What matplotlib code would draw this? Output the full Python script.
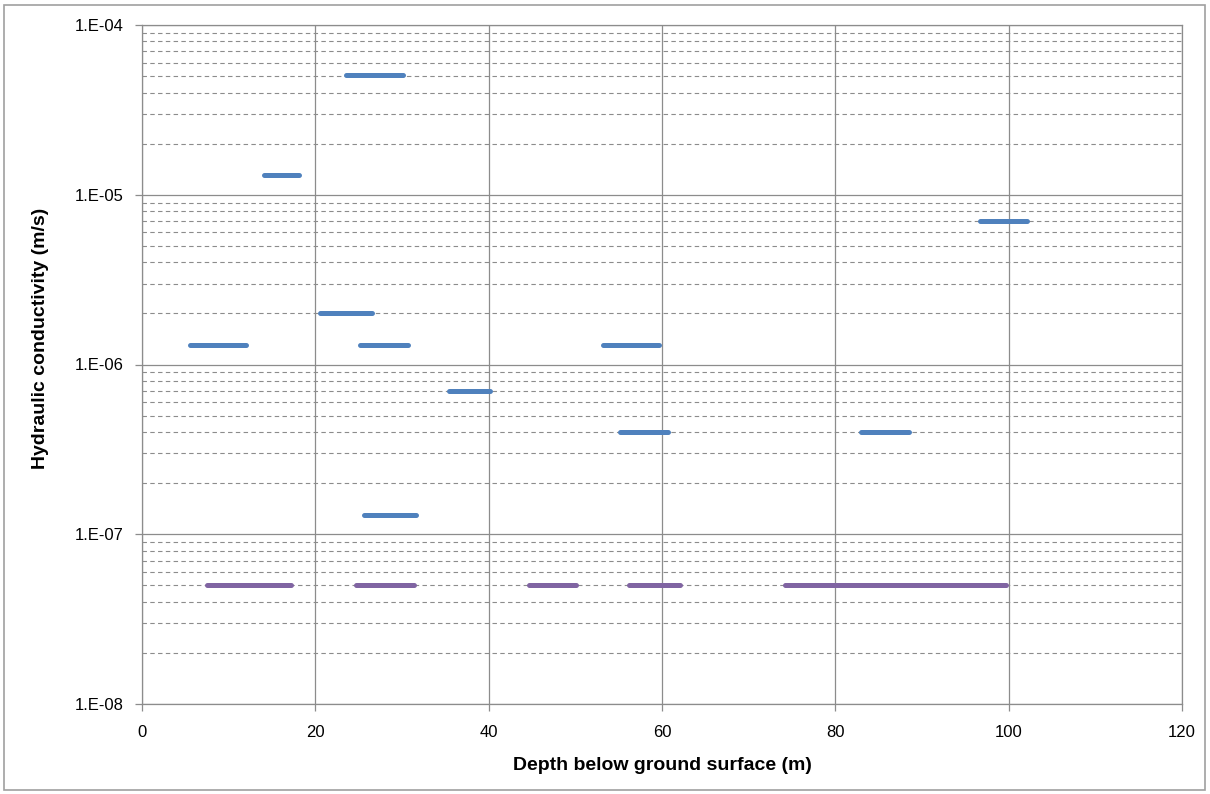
import numpy as np
import matplotlib
matplotlib.use("Agg")
from matplotlib import pyplot as plt
from matplotlib.patches import Rectangle
from matplotlib.ticker import LogLocator, FixedLocator, NullFormatter

plt.rcParams['font.family'] = ['Liberation Sans', 'DejaVu Sans']

# tested intervals: start depth, end depth (m), hydraulic conductivity (m/s)
blue_start = [5.5, 6.8, 14.1, 20.5, 23.5, 25.2, 25.6, 35.4, 53.2, 55.2, 83.0, 96.7]
blue_end = [12.0, 11.1, 18.1, 26.5, 30.1, 30.7, 31.6, 40.1, 59.6, 60.7, 88.5, 102.1]
blue_k = [1.3e-6, 1.3e-6, 1.3e-5, 2e-6, 5.1e-5, 1.3e-6, 1.3e-7, 7e-7, 1.3e-6, 4e-7, 4e-7, 7e-6]

purple_start = [7.5, 11.8, 24.7, 25.9, 44.7, 56.2, 74.2, 74.4]
purple_end = [13.0, 17.2, 31.4, 30.2, 50.1, 62.1, 99.7, 79.6]
purple_k = [5e-8, 5e-8, 5e-8, 5e-8, 5e-8, 5e-8, 5e-8, 5e-8]

x_ticks = [0, 20, 40, 60, 80, 100, 120]
y_ticks = [1e-8, 1e-7, 1e-6, 1e-5, 1e-4]
y_tick_labels = ['1.E-08', '1.E-07', '1.E-06', '1.E-05', '1.E-04']

BLUE = '#4F81BD'
PURPLE = '#8064A2'
GRID = '#8c8c8c'

W, H = 1210, 794
fig = plt.figure(figsize=(W / 100, H / 100), dpi=100)
ax = fig.add_axes([142 / W, 1 - 704 / H, 1040 / W, 679 / H])

# outer chart border
fig.patches.append(Rectangle((4 / W, 4 / H), 1201 / W, 785 / H,
                             transform=fig.transFigure, fill=False,
                             edgecolor='#a0a0a0', linewidth=1.2))

for x0, x1, k in zip(blue_start, blue_end, blue_k):
    ax.plot([x0, x1], [k, k], color=BLUE, lw=3.6, solid_capstyle='round', zorder=3)
for x0, x1, k in zip(purple_start, purple_end, purple_k):
    ax.plot([x0, x1], [k, k], color=PURPLE, lw=3.6, solid_capstyle='round', zorder=3)

ax.set_yscale('log')
ax.set_xlim(0, 120)
ax.set_ylim(1e-8, 1e-4)
ax.xaxis.set_major_locator(FixedLocator(x_ticks))
ax.set_yticks(y_ticks)
ax.set_yticklabels(y_tick_labels)
ax.yaxis.set_minor_locator(LogLocator(base=10, subs=np.arange(2, 10)))
ax.yaxis.set_minor_formatter(NullFormatter())

ax.grid(True, which='major', axis='both', color=GRID, lw=0.9, ls='-', zorder=1)
ax.grid(True, which='minor', axis='y', color=GRID, lw=0.8, ls=(0, (4, 3)), zorder=1)
ax.set_axisbelow(True)

ax.tick_params(axis='both', which='major', length=5, width=0.9, color=GRID, labelsize=12)
ax.tick_params(axis='y', which='major', pad=8)
ax.tick_params(axis='x', which='major', pad=10)
ax.tick_params(axis='y', which='minor', length=0)
for s in ax.spines.values():
    s.set_color(GRID)
    s.set_linewidth(0.9)

# axis titles placed like the original chart
fig.text(662 / W, 1 - 766 / H, 'Depth below ground surface (m)', fontsize=14,
         fontweight='bold', ha='center', va='center')
fig.text(41 / W, 1 - 338 / H, 'Hydraulic conductivity (m/s)', fontsize=14,
         fontweight='bold', ha='center', va='center', rotation=90)

fig.savefig('out.png', dpi=100)
